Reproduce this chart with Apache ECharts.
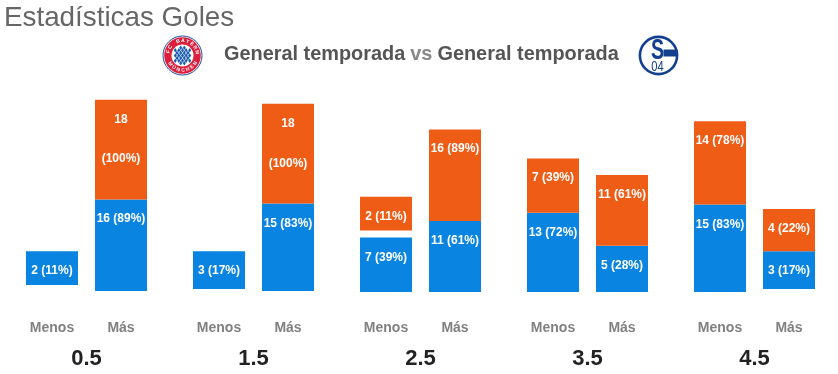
<!DOCTYPE html>
<html>
<head>
<meta charset="utf-8">
<title>Estadísticas Goles</title>
<script src="https://cdn.jsdelivr.net/npm/echarts@6/dist/echarts.min.js"></script>
<style>
    html, body { margin: 0; padding: 0; background: #fff; }
    #chart { width: 838px; height: 374px; }
</style>
</head>
<body>
<div id="chart"></div>
<script>
const lines = ['0.5', '1.5', '2.5', '3.5', '4.5'];

const menosBlue = [2, 3, 7, 13, 15];
const menosBluePct = [11, 17, 39, 72, 83];
const menosOrange = [null, null, 2, 7, 14];
const menosOrangePct = [null, null, 11, 39, 78];

const masBlue = [16, 15, 11, 5, 3];
const masBluePct = [89, 83, 61, 28, 17];
const masOrange = [18, 18, 16, 11, 4];
const masOrangePct = [100, 100, 89, 61, 22];

const BLUE = '#0984e0';
const ORANGE = '#ee5c16';

// the source page gives every segment a fixed extra height on top of its goals
const SEGMENT_PAD = 6.2;
// small shifts of the source columns, in axis units
const menosLift = [1.7, 0.7, 0, 0, 0];
const menosGap = [0, 0, 1.7, 0, 0];
const masLift = [0.25, 0.25, 0, 0, 0.7];

function segment(values) {
    return values.map(v => (v === null ? null : v + SEGMENT_PAD));
}

function spacer(stack, data) {
    return {
        type: 'bar', stack, data, barWidth: 52, barGap: '32.7%', silent: true,
        itemStyle: { color: 'transparent' }
    };
}

function bars(stack, color, values, pcts) {
    return {
        type: 'bar', stack, data: segment(values), barWidth: 52, barGap: '32.7%',
        itemStyle: { color },
        label: {
            show: true,
            position: 'insideTop',
            distance: 13,
            color: '#fff',
            fontFamily: 'Liberation Sans',
            fontWeight: 'bold',
            fontSize: 12,
            lineHeight: 13.3,
            formatter: p => {
                // 100% does not fit next to the count
                const pct = pcts[p.dataIndex];
                return values[p.dataIndex] + (pct === 100 ? '\n\n\n' : ' ') + '(' + pct + '%)';
            }
        }
    };
}

// badges are only decoration, drawn as plain shapes
function ringLetters(cx, cy, r, text, startDeg, stepDeg, bottom) {
    return text.split('').map((ch, i) => {
        const a = (startDeg + stepDeg * i) * Math.PI / 180;
        return {
            type: 'text',
            x: cx + r * Math.cos(a),
            y: cy + r * Math.sin(a),
            rotation: bottom ? -(a - Math.PI / 2) : -(a + Math.PI / 2),
            style: {
                text: ch, fill: '#fff', fontSize: 5, fontWeight: 'bold',
                fontFamily: 'Liberation Sans', align: 'center', verticalAlign: 'middle'
            }
        };
    });
}

function bayernBadge(cx, cy) {
    const out = [
        { type: 'circle', shape: { cx, cy, r: 19.5 }, style: { fill: '#fff', stroke: '#1c4f9c', lineWidth: 1 } },
        { type: 'circle', shape: { cx, cy, r: 18.3 }, style: { fill: '#dc1f3c' } },
        { type: 'circle', shape: { cx, cy, r: 11 }, style: { fill: '#fff' } }
    ];
    for (let row = -3; row <= 3; row++) {
        for (let col = -3; col <= 3; col++) {
            const x = cx + col * 3.6 + (row % 2 ? 1.8 : 0);
            const y = cy + row * 2.6;
            if (Math.hypot(x - cx, y - cy) > 9) continue;
            out.push({
                type: 'polygon',
                shape: { points: [[x, y - 2.3], [x + 1.5, y], [x, y + 2.3], [x - 1.5, y]] },
                style: { fill: '#1c5cb0' }
            });
        }
    }
    return out
        .concat(ringLetters(cx, cy, 14.8, 'FC BAYERN', -165, 19, false))
        .concat(ringLetters(cx, cy, 14.8, 'MÜNCHEN', 145, -19, true));
}

function schalkeBadge(cx, cy) {
    const navy = '#12408f';
    return [
        { type: 'circle', shape: { cx, cy, r: 18.6 }, style: { fill: '#fff', stroke: navy, lineWidth: 2.6 } },
        { type: 'rect', shape: { x: cx + 5, y: cy - 6, width: 14, height: 7 }, style: { fill: navy } },
        {
            type: 'text', x: cx - 1, y: cy - 5,
            scaleX: 0.68,
            style: {
                text: 'S', fill: navy, fontSize: 29, fontWeight: 'bold',
                fontFamily: 'Liberation Sans', align: 'center', verticalAlign: 'middle'
            }
        },
        {
            type: 'text', x: cx - 1, y: cy + 11.5,
            scaleX: 0.8,
            style: {
                text: '04', fill: navy, fontSize: 14,
                fontFamily: 'Liberation Sans', align: 'center', verticalAlign: 'middle'
            }
        }
    ];
}

const chart = echarts.init(document.getElementById('chart'));

chart.setOption({
    animation: false,
    backgroundColor: '#fff',
    title: [
        {
            text: 'Estadísticas Goles',
            left: -1,
            top: -1,
            textStyle: { color: '#666', fontSize: 27.8, fontWeight: 'normal', fontFamily: 'Liberation Sans' }
        },
        {
            text: '{b|General temporada} {v|vs} {b|General temporada}',
            left: 219,
            top: 40,
            textStyle: {
                fontFamily: 'Liberation Sans',
                rich: {
                    b: { color: '#555', fontSize: 19.9, fontWeight: 'bold', fontFamily: 'Liberation Sans' },
                    v: { color: '#888', fontSize: 19.9, fontFamily: 'Liberation Sans' }
                }
            }
        }
    ],
    grid: { left: 3, right: 0, top: 92, bottom: 82 },
    xAxis: {
        type: 'category',
        data: lines,
        axisLine: { show: false },
        axisTick: { show: false },
        axisLabel: {
            interval: 0,
            margin: 26,
            fontFamily: 'Liberation Sans',
            formatter: v => '{m|Menos}{m|Más}\n{g|' + v + '}',
            rich: {
                m: { width: 69, align: 'center', color: '#808080', fontSize: 14, fontWeight: 'bold', lineHeight: 20, fontFamily: 'Liberation Sans' },
                g: { align: 'center', color: '#222', fontSize: 22, fontWeight: 'bold', lineHeight: 42, fontFamily: 'Liberation Sans' }
            }
        }
    },
    yAxis: { type: 'value', min: 0, max: 48.5, show: false },
    series: [
        spacer('menos', menosLift),
        bars('menos', BLUE, menosBlue, menosBluePct),
        spacer('menos', menosGap),
        bars('menos', ORANGE, menosOrange, menosOrangePct),
        spacer('mas', masLift),
        bars('mas', BLUE, masBlue, masBluePct),
        bars('mas', ORANGE, masOrange, masOrangePct)
    ],
    graphic: bayernBadge(182.5, 55.5).concat(schalkeBadge(658.5, 55.5))
});

window.addEventListener('resize', () => {
    chart.resize();
});
</script>
</body>
</html>
